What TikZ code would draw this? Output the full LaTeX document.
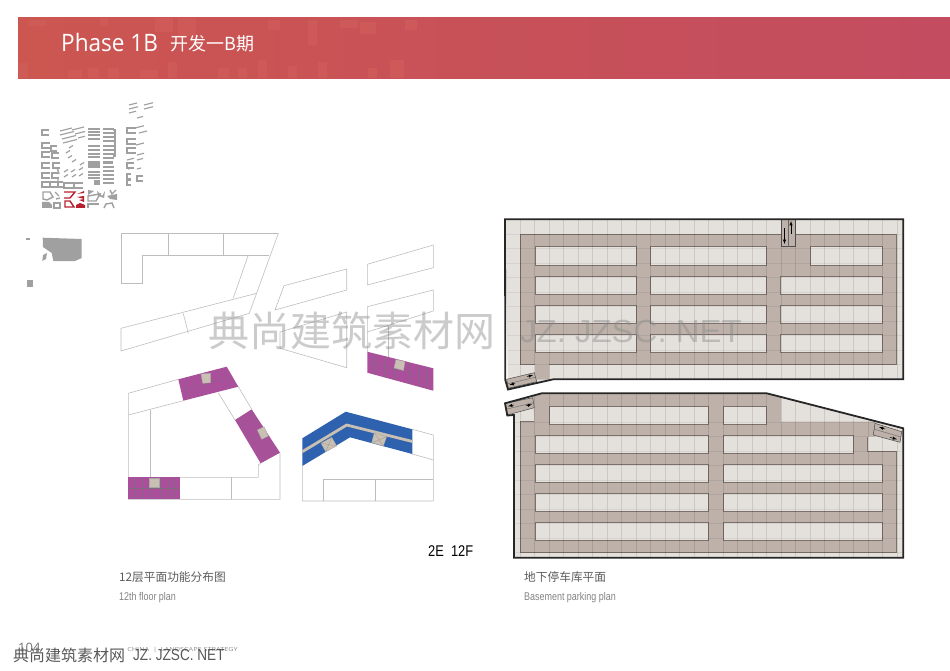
\documentclass[tikz,border=0pt]{standalone}
\usepackage{fontspec}
\setmainfont{Open Sans}
\newfontfamily\cjkfont{Noto Sans CJK SC}
\newfontfamily\narrowfont{Liberation Sans}
\usetikzlibrary{calc}

\definecolor{bannerleft}{HTML}{CC5650}
\definecolor{bannerright}{HTML}{C34C60}
\definecolor{bannerlight}{HTML}{D4625E}
\definecolor{sitegrey}{HTML}{A0A0A0}
\definecolor{sitered}{HTML}{B8202E}
\definecolor{wingpurple}{HTML}{AB4F9C}
\definecolor{wingblue}{HTML}{2F62AE}
\definecolor{coregrey}{HTML}{C9BFB3}
\definecolor{planline}{HTML}{BDBDBD}
\definecolor{parkfloor}{HTML}{E4E0DC}
\definecolor{parkroad}{HTML}{BDB1A9}
\definecolor{parkedge}{HTML}{7C706A}
\definecolor{captiongrey}{HTML}{5A5A5A}

\tikzset{
  planedge/.style={draw=planline, line width=0.6pt},
  siteline/.style={draw=sitegrey, line width=1.4pt},
  redline/.style={draw=sitered, line width=1.4pt},
  parkisland/.style={fill=parkfloor, draw=parkedge, line width=0.7pt},
  parkwall/.style={draw=black!85, line width=1.8pt, line join=miter},
  parkramp/.style={fill=parkroad, draw=black!70, line width=0.5pt},
  rampmark/.style={draw=black, line width=0.5pt, -latex},
  corebox/.style={fill=coregrey, draw=black!35, line width=0.3pt},
  caption/.style={anchor=west, text=captiongrey, inner sep=0pt},
  watermark/.style={text=black!45, opacity=0.45, inner sep=0pt}
}

% filled wing of the tower with its room partitions
\newcommand{\towerwing}[5]{
  \fill[#5] #1 -- #2 -- #3 -- #4 -- cycle;
  \foreach \t in {0.12,0.27,0.42,0.62,0.78,0.9}
    \draw[black!55, line width=0.2pt, opacity=0.7] ($#1!\t!#2$) -- ($#4!\t!#3$);
  \draw[black!55, line width=0.2pt, opacity=0.7] ($#1!0.5!#4$) -- ($#2!0.5!#3$);
}

\begin{document}
\begin{tikzpicture}[x=1pt,y=-1pt]

\useasboundingbox (0,0) rectangle (950,671);

% banner
\shade[left color=bannerleft, right color=bannerright] (18,18) rectangle (950,78.5);
\foreach \x/\y/\w/\h in {
  28/20/18/6, 100/18/8/8, 155/18/18/14, 178/18/18/18, 268/20/12/10,
  308/20/9/25, 340/20/18/8, 360/22/16/12, 405/20/12/10, 18/63/10/15,
  68/70/14/8, 88/68/11/10, 108/68/11/10, 140/70/18/8, 168/62/9/16,
  218/68/11/10, 238/68/9/10, 258/60/9/18, 288/66/9/12, 318/62/9/16,
  368/68/9/10, 390/60/14/18}
    \fill[bannerlight, opacity=0.45] (\x,\y) rectangle ++(\w,\h);

\node[anchor=west, text=white, font=\fontsize{24}{24}\selectfont, inner sep=0pt, xscale=0.94] (titlelatin) at (61,43) {Phase 1B};
\node[anchor=west, text=white, font=\cjkfont\fontsize{18}{18}\selectfont, inner sep=0pt] (titlecjk) at (170,44) {开发一B期};

% site plan, grey blocks
\foreach \x/\y/\w in {
  42/130/7, 42/143/8, 42/152/8, 42/163/8, 42/173/8, 42/182/7,
  51/146/6, 52/153/7, 53/163/7, 52/173/7, 50/182/7, 58/182/5, 64/183/9, 74/183/9,
  127/128/9, 127/139/9, 127/148/9, 127/163/7, 127/174/4, 127/180/4, 137/176/6}
    \draw[siteline] (\x+\w,\y) -- (\x,\y) -- (\x,\y+5) -- (\x+\w,\y+5);

\foreach \x/\y/\w in {
  60/131/12, 60/135/14, 62/139/14, 63/143/14, 72/130/12, 75/134/10, 78/138/7,
  129/105/8, 129/109/9, 129/113/7, 144/105/9, 144/109/9, 137/118/6, 135/128/9,
  139/133/8, 136/145/8, 137/155/7, 127/160/7, 137/160/6, 128/169/5, 137/169/4}
    \draw[siteline, line width=1.1pt] (\x,\y) -- ++(\w,-0.25*\w);

\foreach \x/\y in {66/153, 69/148, 68/158, 72/162, 64/172, 71/172, 79/170, 64/177, 72/177, 79/176, 80/165}
  \draw[siteline, line width=1.2pt] (\x,\y) -- ++(4,-2.5);
\draw[siteline] (57,167) -- (59,174) (58,177) -- (58,181);

\foreach \y in {129,132,135,139,146,150,154,157,172,175,178}
  \draw[siteline] (88,\y) -- ++(12,0);
\foreach \y in {129,133,137,141,146,150,154,158,167,171,175,179,183}
  \draw[siteline] (103,\y) -- ++(11,0);
\draw[siteline] (113,130) -- (115,130) -- (115,156) -- (113,156);

\fill[sitegrey] (88,161) rectangle ++(11.5,7.5);
\fill[sitegrey] (103,161) rectangle ++(10,3.5);
\fill[sitegrey] (94,180) rectangle ++(5.5,5);
\fill[sitegrey] (42,202) -- (49,202) -- (52,205) -- (52,208) -- (42,208) -- cycle;
\draw[siteline] (43,192) -- (50,192) -- (53,197) -- (47,200) -- (43,199) -- cycle;
\draw[siteline] (54,203) rectangle ++(6,5);
\draw[siteline] (55,192) -- (59,196) (56,199) -- (60,198);
\draw[siteline] (88,196) -- (100,194) -- (96,201) -- (88,201) -- cycle;
\fill[sitegrey] (88,190) -- (94,191) -- (88,195) -- cycle;
\fill[sitegrey] (97,191) -- (102,196) -- (105,191) -- (104,198) -- (98,196) -- cycle;
\fill[sitegrey] (107,196) -- (117,194) -- (117,200) -- (110,199) -- cycle;
\draw[siteline] (110,190) -- (112,194) -- (116,190);
\draw[siteline] (88,208) -- (88,204) -- (99,204);
\draw[siteline] (104,208) -- (106,204) -- (112,203) -- (114,208);

% site plan, phase in red
\draw[redline] (64,192) -- (75,192) -- (70,198) -- (64,198);
\draw[redline] (65,201) -- (70,201) -- (74,207) -- (65,207) -- cycle;
\fill[sitered] (76,208) -- (76,205) -- (80,203) -- (85,205) -- (85,208) -- cycle;
\fill[sitered] (77,194) -- (84,191) -- (84,193) -- cycle;
\fill[sitered] (77,197) -- (84,196) -- (84,199) -- cycle;
\fill[sitered] (79,200) -- (84,199) -- (84,202) -- cycle;

% blocks below the site plan
\fill[sitegrey] (42.7,237.7) -- (81.7,239) -- (81.7,258) -- (75,261) -- (53.3,261) -- (51.7,253) -- (43,247) -- cycle;
\fill[sitegrey] (42.3,261) -- (43,255) -- (47,253) -- (46,259) -- cycle;
\fill[sitegrey] (26,238) rectangle ++(4,2);
\fill[sitegrey] (26.7,279.5) rectangle ++(6.3,7.5);

% floor plan outlines, top
\draw[planedge] (121,233.5) -- (278.3,233.5) -- (249.3,313.3) -- (121,351) -- (121,328.3) -- (256.7,293.3);
\draw[planedge] (269.3,255) -- (142.7,255) -- (142.7,283.7) -- (121,283.7) -- (121,233.5);
\draw[planedge] (168.3,233.5) -- (168.3,255);
\draw[planedge] (223.3,233.5) -- (223.3,255);
\draw[planedge] (248.3,255) -- (233.3,298);
\draw[planedge] (183.3,313.5) -- (188.3,333.3);
\draw[planedge] (284,285.7) -- (346.7,269) -- (346.7,290) -- (275,310) -- cycle;
\draw[planedge] (280,332) -- (346.7,312) -- (346.7,367.7) -- (280,348.3) -- cycle;
\draw[planedge] (367.3,264.3) -- (433.3,245) -- (433.3,267.7) -- (367.3,285) -- cycle;
\draw[planedge] (367.3,352) -- (367.3,306.7) -- (433.3,290) -- (433.3,311) -- (367.3,332);
\draw[planedge] (388.5,326) -- (388.5,357);

% floor plan outlines, bottom left
\draw[planedge] (178.3,379.3) -- (128.3,393.3) -- (128.3,499.3) -- (280,499.3) -- (280,452.7);
\draw[planedge] (128.3,415) -- (183.3,400.7);
\draw[planedge] (150,410) -- (150,477.3);
\draw[planedge] (238.3,386.7) -- (251.7,409.3);
\draw[planedge] (218.3,392.7) -- (235,420);
\draw[planedge] (260.7,463.3) -- (258.3,465) -- (258.3,477.3) -- (128.3,477.3);
\draw[planedge] (231,477.3) -- (231,499.3);

% floor plan outlines, bottom right
\draw[planedge] (412.3,429.3) -- (433.3,435) -- (433.3,501) -- (302.3,501) -- (302.3,466);
\draw[planedge] (412.3,454) -- (433.3,460);
\draw[planedge] (323.3,501) -- (323.3,479.3) -- (433.3,479.3);
\draw[planedge] (375,479.3) -- (375,501);

% purple wings
\towerwing{(178.3,379.3)}{(226.7,366.7)}{(238.3,386.7)}{(183.3,400.7)}{wingpurple}
\towerwing{(235,420)}{(251.7,409.3)}{(280,452.7)}{(260.7,463.3)}{wingpurple}
\towerwing{(128.3,477.3)}{(180,477.3)}{(180,499.3)}{(128.3,499.3)}{wingpurple}
\towerwing{(367.3,351.7)}{(433.3,368.3)}{(433.3,390.7)}{(367.3,372.7)}{wingpurple}
\fill[corebox] (201,374) -- (210.7,373.3) -- (210.7,382.7) -- (202.7,383.3) -- cycle;
\fill[corebox] (257.3,430) -- (264,426.7) -- (268.3,436) -- (261.7,439.3) -- cycle;
\fill[corebox] (149.3,478.3) rectangle (159.3,487.3);
\fill[corebox] (396,359.5) -- (405,361.7) -- (403.5,370.5) -- (394,368) -- cycle;

% blue wing
\fill[wingblue] (302.3,438.3) -- (345.7,411.7) -- (412.3,429.3) -- (412.3,454) -- (350,437.3) -- (302.3,466) -- cycle;
\draw[coregrey, line width=2.8pt] (302.3,451.7) -- (346.7,425) -- (412.3,441.5);
\filldraw[corebox] (321,443.3) -- (331.7,437.3) -- (336.7,446) -- (325.7,451.7) -- cycle;
\draw[black!40, line width=0.3pt] (321,443.3) -- (336.7,446) (331.7,437.3) -- (325.7,451.7);
\filldraw[corebox] (374.3,432.7) -- (386.7,436.7) -- (383.3,446) -- (371.7,442.7) -- cycle;
\draw[black!40, line width=0.3pt] (374.3,432.7) -- (383.3,446) (386.7,436.7) -- (371.7,442.7);

% parking, upper level
\fill[parkfloor] (505,219.3) -- (903.3,219.3) -- (903.3,379.3) -- (553.3,379.3) -- (508,388.7) -- cycle;
\fill[parkroad] (520,234) -- (896.7,234) -- (896.7,364.3) -- (549.3,364.3) -- (549.3,379.3) -- (535,379.3) -- (535,364.3) -- (520,364.3) -- cycle;
\draw[parkedge, line width=0.5pt] (535,364.3) -- (520,364.3) -- (520,234) -- (896.7,234) -- (896.7,364.3) -- (549.3,364.3);

\foreach \xa/\xb/\y in {
  535/636/246.7, 650.7/766/246.7, 810/882.3/246.7,
  535/636/276, 650.7/766/276, 780.7/882.3/276,
  535/636/305, 650.7/766/305, 780.7/882.3/305,
  535/636/334, 650.7/766/334, 780.7/882.3/334}
    \path[parkisland] (\xa,\y) rectangle (\xb,\y+18.3);

\begin{scope}
  \clip (505,219.3) -- (903.3,219.3) -- (903.3,379.3) -- (553.3,379.3) -- (508,388.7) -- cycle;
  \foreach \x in {520,534.5,...,900}
    \draw[black, opacity=0.1, line width=0.4pt] (\x,219) -- (\x,380);
  \foreach \y in {234,248.5,...,380}
    \draw[black, opacity=0.06, line width=0.4pt] (505,\y) -- (904,\y);
\end{scope}

% ramps of the upper level
\path[parkramp] (781,219.3) rectangle (795,246.7);
\draw[black!60, line width=0.4pt] (788,219.3) -- (788,246.7);
\draw[rampmark] (784.5,228) -- (784.5,244);
\draw[rampmark] (791,234) -- (791,221);
\path[parkramp] (506.7,379.3) -- (534.3,372.7) -- (536.7,381.7) -- (508.3,388.3) -- cycle;
\draw[black!60, line width=0.4pt] (507.5,383.8) -- (535.5,377.2);
\draw[rampmark] (515,383.5) -- (509.5,384.8);
\draw[rampmark] (527,376.5) -- (533,375.2);
\draw[parkwall] (505,219.3) -- (903.3,219.3) -- (903.3,379.3) -- (553.3,379.3) -- (508,389.5) -- (505.3,380) -- cycle;

% parking, lower level
\fill[parkfloor] (514,415) -- (505,403.3) -- (541.7,393.3) -- (766.7,393.3) -- (903.3,428.3) -- (903.3,557.7) -- (514,557.7) -- cycle;
\fill[parkroad] (534.3,421.7) -- (533,396.5) -- (541.7,393.3) -- (766.7,393.3) -- (781,398) -- (781,421.7) -- (875,421.7) -- (875,436.7) -- (867.7,436.7) -- (867.7,451) -- (896.7,451) -- (896.7,552.3) -- (520,552.3) -- (520,421.7) -- cycle;
\draw[parkedge, line width=0.5pt] (534.3,421.7) -- (520,421.7) -- (520,552.3) -- (896.7,552.3) -- (896.7,451) -- (867.7,451) -- (867.7,436.7);

\foreach \xa/\xb/\y in {
  549.3/708.3/406.5, 723/766/406.5,
  535/708.3/435.5, 723/853.3/435.5,
  535/708.3/464.3, 723/882.3/464.3,
  535/708.3/493.3, 723/882.3/493.3,
  535/708.3/522, 723/882.3/522}
    \path[parkisland] (\xa,\y) rectangle (\xb,\y+18);

\begin{scope}
  \clip (514,415) -- (505,403.3) -- (541.7,393.3) -- (766.7,393.3) -- (903.3,428.3) -- (903.3,557.7) -- (514,557.7) -- cycle;
  \foreach \x in {520,534.5,...,900}
    \draw[black, opacity=0.1, line width=0.4pt] (\x,393) -- (\x,558);
  \foreach \y in {421.7,436.2,...,558}
    \draw[black, opacity=0.06, line width=0.4pt] (505,\y) -- (904,\y);
\end{scope}

% ramps of the lower level
\path[parkramp] (505,403.3) -- (532.7,397.7) -- (534.3,407.7) -- (507.3,415) -- cycle;
\draw[black!60, line width=0.4pt] (506.2,409.2) -- (533.5,402.7);
\draw[rampmark] (514,405) -- (508,406.2);
\draw[rampmark] (526,405.8) -- (532,404.4);
\path[parkramp] (875,423.3) -- (901.7,431.7) -- (900,442.3) -- (873.3,435) -- cycle;
\draw[black!60, line width=0.4pt] (874.2,429.2) -- (900.8,437);
\draw[rampmark] (885,429) -- (879,427);
\draw[rampmark] (890,437.3) -- (897,439.3);
\draw[parkwall] (514,415) -- (507.3,415.5) -- (505,403.3) -- (541.7,393.3) -- (766.7,393.3) -- (903.3,428.3) -- (903.3,557.7) -- (514,557.7) -- cycle;

% labels
\node[anchor=west, text=black, font=\narrowfont\fontsize{15.5}{15.5}\selectfont, inner sep=0pt, xscale=0.83] (levelmark) at (428,551) {2E\ \ 12F};
\node[caption, font=\cjkfont\fontsize{11.7}{12}\selectfont] (floorcn) at (119,577) {12层平面功能分布图};
\node[caption, font=\narrowfont\fontsize{11.2}{11}\selectfont, xscale=0.8, text=captiongrey!75] (flooren) at (119,597.5) {12th floor plan};
\node[caption, font=\cjkfont\fontsize{11.7}{12}\selectfont] (basecn) at (524,577) {地下停车库平面};
\node[caption, font=\narrowfont\fontsize{11.2}{11}\selectfont, xscale=0.8, text=captiongrey!75] (baseen) at (524,597.5) {Basement parking plan};

% footer
\node[anchor=west, text=black!55, font=\fontsize{13}{13}\selectfont, inner sep=0pt] (pagenum) at (18,648) {104};
\node[anchor=west, text=black!45, font=\fontsize{5.6}{6}\selectfont, inner sep=0pt, xscale=1.3] (footnote) at (127,650.5) {CHINA\ \ |\ \ LANDSCAPE STRATEGY};

% watermark
\node[watermark, anchor=west, font=\cjkfont\fontsize{41}{41}\selectfont] (markcn) at (208,331) {典尚建筑素材网};
\node[watermark, anchor=west, font=\narrowfont\fontsize{32}{32}\selectfont, xscale=1.03] (marken) at (520,331) {JZ. JZSC. NET};
\node[anchor=west, text=black!65, font=\cjkfont\fontsize{16}{16}\selectfont, inner sep=0pt] (footcn) at (13,655) {典尚建筑素材网};
\node[anchor=west, text=black!65, font=\narrowfont\fontsize{16}{16}\selectfont, inner sep=0pt, xscale=0.85] (footen) at (133,655) {JZ. JZSC. NET};

\end{tikzpicture}
\end{document}
